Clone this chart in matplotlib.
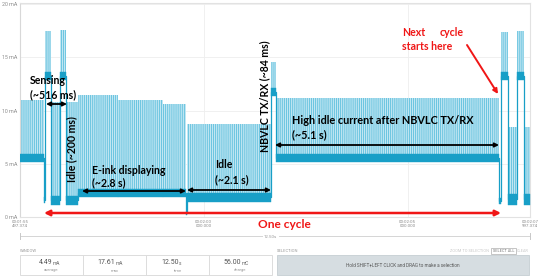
import matplotlib
matplotlib.use("Agg")
import matplotlib.pyplot as plt
from matplotlib.patches import Rectangle

plt.rcParams['hatch.linewidth'] = 0.6

# ---------------- data ----------------
# time in seconds of the capture, current in mA
win_start, win_end = 115.497, 127.997
seg_edges = [115.497, 116.085, 116.110, 116.257, 116.477, 116.624, 116.919,
             117.900, 119.000, 119.566, 119.590, 121.649, 121.772, 127.237,
             127.286, 127.458, 127.679, 127.850, 127.997]
base_lo   = [5.2, 1.3, 12.9, 1.1, 12.9, 1.1, 1.9, 1.9, 1.9, 0.2, 1.4, 11.4, 5.2, 1.2, 12.9, 1.1, 12.9, 1.1]
base_hi   = [5.9, 1.9, 13.6, 2.0, 13.6, 2.0, 2.6, 2.6, 2.6, 0.5, 2.3, 12.1, 5.9, 1.8, 13.6, 2.2, 13.6, 2.2]
spike_top = [11.0, 1.9, 17.5, 10.8, 17.6, 10.8, 11.5, 11.0, 10.6, 0.5, 8.7, 14.6, 11.2, 1.8, 17.4, 8.5, 17.5, 8.5]

y_ticks = [0, 5, 10, 15, 20]
y_ticklabels = ["0 mA", "5 mA", "10 mA", "15 mA", "20 mA"]
x_ticks = [115.497, 120.0, 125.0, 127.997]
x_ticklabels = ["00:01:55\n497.374", "00:02:00\n000.000", "00:02:05\n000.000", "00:02:07\n997.374"]

stat_values = ["4.49", "17.61", "12.50", "56.00"]
stat_units = ["mA", "mA", "s", "mC"]
stat_names = ["average", "max", "time", "charge"]

# ---------------- figure ----------------
fig = plt.figure(figsize=(5.4, 2.79), dpi=100)
fig.patch.set_facecolor('white')
ax = fig.add_axes([20/540, 62/279, 510/540, 214/279])
ax.set_xlim(win_start, win_end)
ax.set_ylim(0, 20.1)

DARK = '#189fc7'
LIGHT = '#c2e6f2'
HATCH = '#5cbfdd'

for i in range(len(base_lo)):
    t0, t1 = seg_edges[i], seg_edges[i + 1]
    if spike_top[i] > base_hi[i]:
        ax.fill_between([t0, t1], base_hi[i], spike_top[i], facecolor=LIGHT,
                        edgecolor=HATCH, hatch='||||||||', linewidth=0, zorder=2)
    ax.fill_between([t0, t1], base_lo[i], base_hi[i], facecolor=DARK,
                    edgecolor=DARK, linewidth=0.3, zorder=3)

mid = [(a + b) / 2 for a, b in zip(base_lo, base_hi)]
ax.step(seg_edges, mid + [mid[-1]], where='post', color=DARK, lw=0.9, zorder=3)

for s in ax.spines.values():
    s.set_color('#e2e2e2')
    s.set_linewidth(0.8)
ax.spines['left'].set_color('#d8d8d8')
ax.set_yticks(y_ticks)
ax.set_yticklabels(y_ticklabels, fontsize=3.8, color='#8a8a8a', family='Roboto')
ax.set_xticks(x_ticks)
ax.set_xticklabels(x_ticklabels, fontsize=3.2, color='#8a8a8a', family='Roboto', linespacing=1.1)
ax.tick_params(length=0, pad=2)
ax.grid(True, color='#eeeeee', lw=0.6, zorder=0)
ax.set_axisbelow(True)
for gl, v in zip(ax.get_xgridlines(), x_ticks):
    if v in (win_start, win_end):
        gl.set_visible(False)

# ---------------- overlay for annotations / UI ----------------
ov = fig.add_axes([0, 0, 1, 1], facecolor='none')
ov.set_xlim(0, 540)
ov.set_ylim(279, 0)
ov.axis('off')

FONT = 'Lato'
BFS = 7.6

def label(x, y, s, **kw):
    d = dict(fontsize=BFS, fontweight='bold', family=FONT, color='black', va='center', ha='left')
    d.update(kw)
    ov.text(x, y, s, **d)

def darrow(x0, x1, y, color='black', lw=1.3, ms=6, style='<|-|>'):
    ov.annotate('', xy=(x1, y), xytext=(x0, y),
                arrowprops=dict(arrowstyle=style, color=color, lw=lw, mutation_scale=ms,
                                shrinkA=0, shrinkB=0))

label(30, 81, "Sensing")
label(30, 95, "(~516 ms)")
darrow(46, 67, 104)
label(72, 149, "Idle (~200 ms)", rotation=90, ha='center')
label(92, 170, "E-ink displaying")
label(92, 183, "(~2.8 s)")
darrow(82, 186, 191)
label(215, 165, "Idle")
label(215, 180, "(~2.1 s)")
darrow(187, 271, 190)
label(265, 96, "NBVLC TX/RX (~84 ms)", rotation=90, ha='center')
label(292, 121, "High idle current after NBVLC TX/RX", fontsize=7.8)
label(292, 135, "(~5.1 s)", fontsize=7.8)
darrow(275, 499, 145)

RED = '#f01616'
darrow(44, 501, 213, color=RED, lw=1.8, ms=8)
label(284, 225, "One cycle", color=RED, ha='center', fontsize=8.6)
label(402, 33, "Next", color=RED)
label(440, 33, "cycle", color=RED)
label(402, 47, "starts here", color=RED)
ov.annotate('', xy=(498, 94), xytext=(467, 45),
            arrowprops=dict(arrowstyle='-|>', color=RED, lw=1.4, mutation_scale=7,
                            shrinkA=0, shrinkB=0))

# range line under the chart
UI = '#9a9a9a'
ov.plot([20, 262], [236, 236], color='#d5d5d5', lw=0.7)
ov.plot([279, 530], [236, 236], color='#d5d5d5', lw=0.7)
ov.plot([20, 20], [233, 239], color='#c8c8c8', lw=0.7)
ov.plot([530, 530], [233, 239], color='#c8c8c8', lw=0.7)
ov.text(270, 236.5, "12.50s", fontsize=3.2, color=UI, ha='center', va='center', family='Roboto')

# window box
ov.text(20, 251, "WINDOW", fontsize=3.0, color=UI, ha='left', va='center', family='Roboto')
ov.add_patch(Rectangle((20, 255), 252, 20, facecolor='white', edgecolor='#dcdcdc', lw=0.7))
cell_w = 252 / 4
for i in range(4):
    cx = 20 + cell_w * (i + 0.5)
    if i > 0:
        ov.plot([20 + cell_w * i] * 2, [255, 275], color='#dcdcdc', lw=0.7)
    ov.text(cx + 1, 263, stat_values[i], fontsize=5.0, color='#555555', ha='right', va='center', family='Roboto')
    ov.text(cx + 1.5, 263.5, stat_units[i], fontsize=3.4, color='#666666', ha='left', va='center', family='Roboto')
    ov.text(cx, 270.5, stat_names[i], fontsize=3.0, color=UI, ha='center', va='center', family='Roboto')

# selection box
ov.text(277, 251, "SELECTION", fontsize=3.0, color=UI, ha='left', va='center', family='Roboto')
ov.text(470, 251, "ZOOM TO SELECTION", fontsize=2.8, color='#c8c8c8', ha='center', va='center', family='Roboto')
ov.add_patch(Rectangle((491, 248), 25, 6, facecolor='white', edgecolor='#bbbbbb', lw=0.6))
ov.text(503.5, 251, "SELECT ALL", fontsize=2.8, color='#777777', ha='center', va='center', family='Roboto')
ov.text(523, 251, "CLEAR", fontsize=2.8, color='#c8c8c8', ha='center', va='center', family='Roboto')
ov.add_patch(Rectangle((277, 255), 252, 20, facecolor='#d6dde1', edgecolor='#cbd3d7', lw=0.7))
ov.text(403, 265, "Hold SHIFT+LEFT CLICK and DRAG to make a selection", fontsize=3.3,
        color='#555555', ha='center', va='center', family='Roboto')

fig.savefig('out.png', dpi=100, facecolor='white')
